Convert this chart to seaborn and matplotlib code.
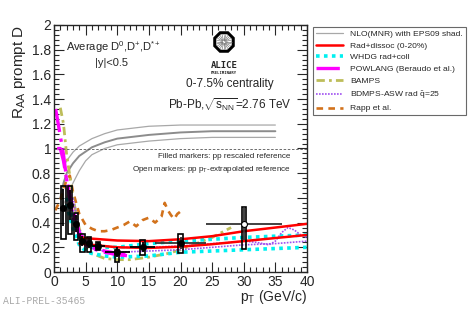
import numpy as np
import pandas as pd
import seaborn as sns
import matplotlib.pyplot as plt
from matplotlib.patches import Rectangle, RegularPolygon
from matplotlib.lines import Line2D
from matplotlib.ticker import MultipleLocator, FormatStrFormatter

# D meson RAA points (0-7.5%)
pt = [1.5, 2.5, 3.5, 4.5, 5.5, 7, 10, 14, 20, 30]
raa = [0.52, 0.54, 0.39, 0.25, 0.235, 0.21, 0.16, 0.205, 0.235, 0.39]
pt_half = [0.5, 0.5, 0.5, 0.5, 0.5, 1, 2, 2, 4, 6]
stat = [0.15, 0.12, 0.07, 0.04, 0.04, 0.03, 0.04, 0.04, 0.05, 0.13]
sys_lo = [0.25, 0.23, 0.13, 0.09, 0.075, 0.035, 0.08, 0.07, 0.085, 0.2]
sys_hi = [0.18, 0.16, 0.09, 0.055, 0.045, 0.035, 0.02, 0.055, 0.075, 0.14]
filled = [True] * 9 + [False]

# NLO(MNR) with EPS09 shadowing
nlo_up_pt = [1.5, 2, 3, 4, 6, 8, 10, 15, 20, 25, 30, 35]
nlo_up = [0.85, 0.9, 0.97, 1.02, 1.08, 1.12, 1.15, 1.18, 1.19, 1.19, 1.19, 1.19]
nlo_c_pt = [1, 1.5, 2, 3, 4, 6, 8, 10, 15, 20, 25, 30, 35]
nlo_c = [0.6, 0.72, 0.8, 0.88, 0.94, 1.01, 1.05, 1.08, 1.11, 1.13, 1.14, 1.14, 1.14]
nlo_lo_pt = [1, 2, 3, 4, 5, 6, 8, 10, 15, 20, 25, 30, 35]
nlo_lo = [0.5, 0.6, 0.72, 0.82, 0.9, 0.95, 1.0, 1.03, 1.06, 1.08, 1.09, 1.09, 1.09]

# Rad+dissoc
rd_pt = [4, 6, 10, 15, 20, 25, 30, 35, 40]
rd_up = [0.28, 0.27, 0.255, 0.25, 0.265, 0.29, 0.33, 0.36, 0.39]
rd_lo = [0.23, 0.22, 0.2, 0.195, 0.205, 0.225, 0.25, 0.275, 0.30]

# WHDG
wh_pt = [2, 3, 4, 5, 6, 8, 10, 15, 20, 30, 40]
wh_up = [0.6, 0.42, 0.28, 0.22, 0.2, 0.2, 0.2, 0.23, 0.25, 0.28, 0.30]
wh_lo = [0.55, 0.35, 0.22, 0.17, 0.15, 0.13, 0.12, 0.13, 0.16, 0.18, 0.20]

# POWLANG
pw1_pt = [0.25, 0.5, 1, 1.5, 2, 3, 4, 5, 6, 8, 10, 12]
pw1 = [1.32, 1.25, 1.1, 0.95, 0.75, 0.45, 0.3, 0.22, 0.19, 0.16, 0.14, 0.13]
pw2_pt = [0.5, 1, 1.5, 2, 3, 4, 5, 6, 8, 10, 12]
pw2 = [1.0, 1.0, 0.9, 0.75, 0.5, 0.32, 0.24, 0.2, 0.17, 0.15, 0.14]

# BAMPS
bm_pt = [1, 1.5, 2, 2.5, 3, 4, 5, 6, 8, 10, 12, 15, 18, 20, 22, 25, 28]
bm = [1.33, 1.2, 0.95, 0.78, 0.6, 0.35, 0.22, 0.15, 0.11, 0.1, 0.1, 0.12, 0.15, 0.18, 0.22, 0.28, 0.36]

# BDMPS-ASW
as_up_pt = [3, 4, 5, 6, 8, 10, 15, 20, 25, 28, 30, 32, 34, 35, 36, 37, 38, 39, 40]
as_up = [0.6, 0.35, 0.25, 0.22, 0.21, 0.2, 0.2, 0.21, 0.23, 0.24, 0.25, 0.24, 0.22, 0.25, 0.32, 0.36, 0.34, 0.3, 0.28]
as_lo_pt = [3, 4, 5, 6, 8, 10, 15, 20, 25, 30, 35, 40]
as_lo = [0.5, 0.3, 0.22, 0.19, 0.17, 0.16, 0.17, 0.18, 0.2, 0.22, 0.23, 0.25]

# Rapp et al.
rp_pt = [0.2, 1, 2, 2.5, 3, 4, 5, 6, 7, 8, 9, 10, 11, 12, 13, 14, 15, 16, 17, 17.5, 18, 18.5, 19, 19.5, 20]
rp = [0.5, 0.58, 0.75, 0.78, 0.65, 0.47, 0.38, 0.35, 0.33, 0.33, 0.34, 0.36, 0.38, 0.41, 0.37, 0.42, 0.44, 0.40, 0.45, 0.56, 0.50, 0.46, 0.43, 0.47, 0.49]

sns.set_style("ticks")
plt.rcParams['font.family'] = ['Liberation Sans', 'DejaVu Sans']
plt.rcParams['mathtext.fontset'] = 'custom'
plt.rcParams['mathtext.rm'] = 'Liberation Sans'
plt.rcParams['mathtext.it'] = 'Liberation Sans'

W, H = 473, 311
fig = plt.figure(figsize=(W / 100, H / 100), dpi=100)
ax = fig.add_axes([54 / W, 1 - 272 / H, 253 / W, 247 / H])

# styles
st_nlo = dict(color='#a8a8a8', lw=0.9)
st_nloc = dict(color='#8c8c8c', lw=1.4)
st_rd = dict(color='#ff0000', lw=1.8)
st_wh = dict(color='#00f0f0', lw=2.6, ls=(0, (1, 1.2)))
st_pw = dict(color='#ff00ff', lw=2.4, ls=(0, (7, 2, 1, 2)))
st_bm = dict(color='#bdbd5a', lw=2.0, ls=(0, (3, 1.5, 1, 1.5)))
st_as = dict(color='#a050f0', lw=1.2, ls=(0, (1, 0.8)))
st_rp = dict(color='#d2721c', lw=1.9, ls=(0, (2.5, 2)))

def curve(x, y, st):
    sns.lineplot(x=x, y=y, ax=ax, sort=False, estimator=None, **st)

curve(nlo_up_pt, nlo_up, st_nlo)
curve(nlo_c_pt, nlo_c, st_nloc)
curve(nlo_lo_pt, nlo_lo, st_nlo)
curve(rp_pt, rp, st_rp)
curve(bm_pt, bm, st_bm)
curve(wh_pt, wh_up, st_wh)
curve(wh_pt, wh_lo, st_wh)
curve(as_up_pt, as_up, st_as)
curve(as_lo_pt, as_lo, st_as)
curve(pw1_pt, pw1, st_pw)
curve(pw2_pt, pw2, st_pw)
curve(rd_pt, rd_up, st_rd)
curve(rd_pt, rd_lo, st_rd)

ax.axhline(1, color='#555555', lw=0.6, ls=(0, (3, 2)))

# data points
for i in range(len(pt)):
    col = 'black' if i < 8 else '#333333'
    ax.errorbar(pt[i], raa[i], xerr=pt_half[i], yerr=stat[i], fmt='none',
                ecolor=col, elinewidth=1.3, capsize=0, zorder=5)
    ax.add_patch(Rectangle((pt[i] - 0.35, raa[i] - sys_lo[i]), 0.7, sys_lo[i] + sys_hi[i],
                           fill=False, edgecolor='black', lw=1.2, zorder=6))
df = pd.DataFrame({'pt': pt, 'raa': raa, 'filled': filled})
sns.scatterplot(data=df[df['filled']], x='pt', y='raa', ax=ax, color='black',
                s=22, edgecolor='black', zorder=7, legend=False)
sns.scatterplot(data=df[~df['filled']], x='pt', y='raa', ax=ax, color='white',
                s=18, edgecolor='black', linewidth=0.8, zorder=7, legend=False)

ax.set_xlim(0, 40)
ax.set_ylim(0, 2)
ax.xaxis.set_major_locator(MultipleLocator(5))
ax.xaxis.set_minor_locator(MultipleLocator(1))
ax.yaxis.set_major_locator(MultipleLocator(0.2))
ax.yaxis.set_minor_locator(MultipleLocator(0.04))
ax.yaxis.set_major_formatter(FormatStrFormatter('%g'))
ax.tick_params(which='both', direction='in', top=True, right=True, labelsize=10, pad=2)
ax.tick_params(which='major', length=7, width=0.8)
ax.tick_params(which='minor', length=3.5, width=0.8)
for s in ax.spines.values():
    s.set_linewidth(1.0)
ax.set_xlabel('')
ax.set_ylabel('')

fig.text(20 / W, 1 - 25 / H, r'R$_{\rm AA}$ prompt D', rotation=90, ha='center', va='top', fontsize=11)
fig.text(307 / W, 1 - 288 / H, r'p$_{\rm T}$ (GeV/c)', ha='right', va='top', fontsize=10)

ax.text(0.237, 0.91, r'Average D$^{0}$,D$^{+}$,D$^{*+}$', transform=ax.transAxes, ha='center', va='center', fontsize=8)
ax.text(0.229, 0.848, '|y|<0.5', transform=ax.transAxes, ha='center', va='center', fontsize=8)
ax.text(0.696, 0.761, '0-7.5% centrality', transform=ax.transAxes, ha='center', va='center', fontsize=8.5)
ax.text(0.694, 0.68, r'Pb-Pb,$\sqrt{s_{\rm NN}}$=2.76 TeV', transform=ax.transAxes, ha='center', va='center', fontsize=8.5)
ax.text(0.935, 0.466, 'Filled markers: pp rescaled reference', transform=ax.transAxes, ha='right', va='center', fontsize=5.8)
ax.text(0.935, 0.413, r'Open markers: pp p$_{\rm T}$-extrapolated reference', transform=ax.transAxes, ha='right', va='center', fontsize=5.8)

# ALICE logo
lax = fig.add_axes([213 / W, 1 - 54 / H, 22 / W, 24 / H])
lax.set_xlim(-1.1, 1.1)
lax.set_ylim(-1.1, 1.1)
lax.set_aspect('equal')
lax.axis('off')
lax.add_patch(RegularPolygon((0, 0), 8, radius=1.0, orientation=np.pi / 8,
                             facecolor='white', edgecolor='black', lw=2.2))
for a in np.linspace(0, 2 * np.pi, 24, endpoint=False):
    lax.plot([0.15 * np.cos(a), 0.75 * np.cos(a)], [0.15 * np.sin(a), 0.75 * np.sin(a)],
             color='#666666', lw=0.4)
fig.text(224 / W, 1 - 65 / H, 'ALICE', ha='center', va='center', fontsize=6.5, fontweight='bold',
         family=['DejaVu Sans Mono', 'DejaVu Sans'])
fig.text(224 / W, 1 - 73 / H, 'PRELIMINARY', ha='center', va='center', fontsize=2.8, fontweight='bold',
         family=['DejaVu Sans Mono', 'DejaVu Sans'])

# legend
handles = [Line2D([], [], **st_nlo), Line2D([], [], **st_rd), Line2D([], [], **st_wh),
           Line2D([], [], **st_pw), Line2D([], [], **st_bm), Line2D([], [], **st_as),
           Line2D([], [], **st_rp)]
labels = ['NLO(MNR) with EPS09 shad.', 'Rad+dissoc (0-20%)', 'WHDG rad+coll',
          'POWLANG (Beraudo et al.)', 'BAMPS', r'BDMPS-ASW rad $\hat{\rm q}$=25', 'Rapp et al.']
leg = fig.legend(handles, labels, loc='upper left', bbox_to_anchor=(313 / W, 1 - 27 / H),
                 frameon=True, fancybox=False, fontsize=6.1, handlelength=3.2,
                 labelspacing=0.45, borderpad=0.35, handletextpad=0.8, borderaxespad=0)
leg.get_frame().set_edgecolor('#444444')
leg.get_frame().set_linewidth(0.8)

fig.text(3 / W, 1 - 301 / H, 'ALI-PREL-35465', ha='left', va='center', fontsize=7,
         color='#aaaaaa', family=['Liberation Mono', 'DejaVu Sans Mono'])

fig.savefig('out.png', dpi=100)
